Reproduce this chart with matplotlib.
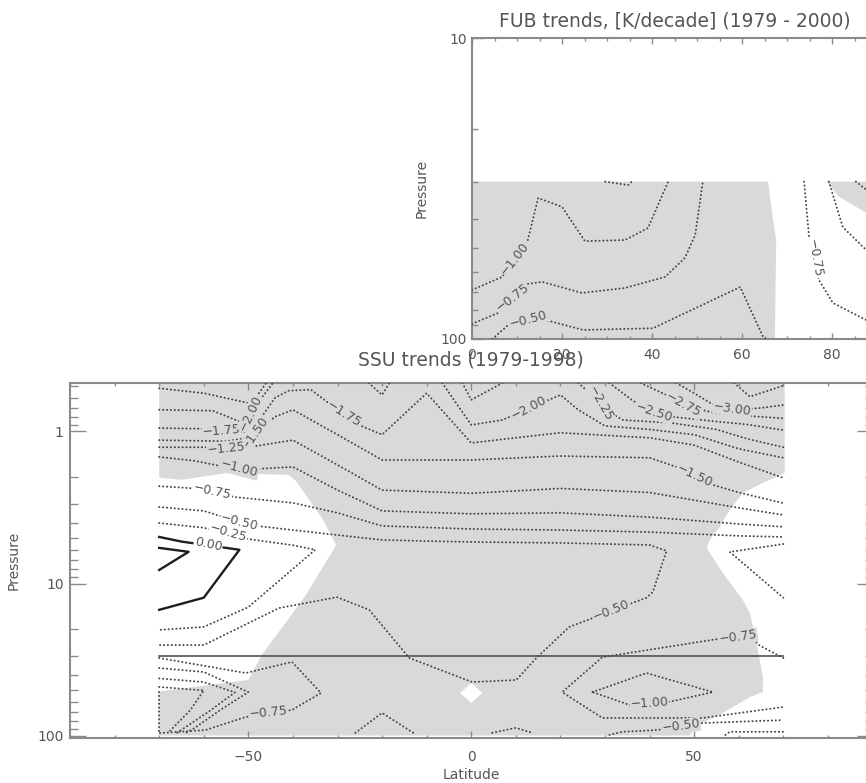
import numpy as np
import matplotlib
matplotlib.use("Agg")
import matplotlib.pyplot as plt
from matplotlib.ticker import FixedLocator, MultipleLocator, LogLocator, NullFormatter, FuncFormatter

'''
Two contour panels: SSU trends (1979-1998) and FUB trends (1979-2000).
Every contour is a list of (latitude, pressure [hPa]) vertices read off the
original figure, every shaded area a list of polygon vertices.
'''

# ---------------------------------------------------------------------------
# SSU panel - contour lines
# ---------------------------------------------------------------------------
ssu_m325 = [(59, 0.48), (62.5, 0.59), (70, 0.50)]
ssu_m300 = [(46, 0.48), (50, 0.56), (54, 0.66), (60, 0.72), (65, 0.70), (70, 0.67)]
ssu_m275 = [(38, 0.48), (44, 0.58), (48, 0.68), (55, 0.76), (62, 0.79), (70, 0.82)]
ssu_m250 = [(31, 0.48), (36, 0.62), (40, 0.73), (45, 0.80), (55, 0.86), (62, 0.90), (70, 0.98)]
ssu_m225_right = [(24, 0.48), (27, 0.575), (30, 0.72), (34, 0.84), (45, 0.88), (55, 0.97), (62, 1.12), (70, 1.27)]
ssu_m225_mid = [(-2, 0.48), (0, 0.62), (7, 0.48)]
ssu_m225_left = [(-70, 0.52), (-60, 0.56), (-50, 0.65), (-48, 0.58), (-46, 0.48)]
ssu_m200_left = [(-70, 0.72), (-58, 0.73), (-52, 0.86), (-48.5, 0.68), (-46, 0.55), (-44.5, 0.48)]
ssu_m200_v = [(-23, 0.48), (-20, 0.575), (-18.4, 0.48)]
ssu_m200_mid = [(-6.5, 0.48), (0, 0.906), (7, 0.84), (20, 0.575), (24, 0.72), (30, 0.92),
                (40, 0.97), (50, 1.05), (60, 1.30), (70, 1.49)]
ssu_m175 = [(-70, 0.95), (-60, 0.96), (-53, 1.02), (-50, 1.0), (-47, 0.80), (-44, 0.60),
            (-41, 0.54), (-36, 0.53), (-30, 0.72), (-25, 0.91), (-20, 1.05), (-10, 0.56),
            (0, 1.19), (10, 1.10), (20, 1.02), (30, 1.06), (40, 1.10), (50, 1.23),
            (60, 1.59), (70, 2.02)]
ssu_m150 = [(-70, 1.14), (-55, 1.16), (-50, 1.10), (-47, 0.95), (-44, 0.80), (-40, 0.72),
            (-30, 1.05), (-20, 1.54), (0, 1.54), (20, 1.45), (40, 1.49), (48, 1.79),
            (52, 2.15), (60, 2.52), (70, 2.96)]
ssu_m125 = [(-70, 1.27), (-50, 1.27), (-40, 1.14), (-30, 1.66), (-20, 2.43), (0, 2.55),
            (20, 2.37), (40, 2.52), (60, 3.18), (70, 3.54)]
ssu_m100 = [(-70, 1.47), (-62, 1.56), (-52, 1.79), (-40, 1.71), (-30, 2.43), (-20, 3.33),
            (0, 3.48), (20, 3.43), (40, 3.66), (60, 4.06), (70, 4.24)]
ssu_m075 = [(-70, 2.29), (-62, 2.37), (-53, 2.70), (-40, 2.95), (-30, 3.43), (-20, 4.18),
            (0, 4.38), (20, 4.45), (40, 4.59), (60, 4.86), (70, 4.94)]
ssu_m050_loop = [(-70, 3.14), (-60, 3.33), (-50, 4.12), (-40, 4.45), (-30, 4.80), (-20, 5.17),
                 (-10, 5.26), (0, 5.33), (20, 5.41), (40, 5.58), (43.8, 6.1), (40.7, 11.4),
                 (39.3, 12.4), (22, 19.3), (14.6, 30.9), (10.1, 43.1), (0.2, 44.5),
                 (-13.9, 30.9), (-22.9, 14.9), (-30.1, 12.3), (-43.1, 14.5), (-60, 25.4),
                 (-70, 25.4)]
ssu_m025_left = [(-70, 4.0), (-60, 4.3), (-50, 5.1), (-40, 5.6), (-35, 6.0), (-50, 14.3),
                 (-60, 19.3), (-70, 20.2)]
ssu_m050_wedge = [(70, 5.5), (58, 6.2), (70, 12.4)]
ssu_m075_low = [(-70, 30.9), (-50.6, 38.8), (-40.2, 32.8), (-33.7, 52.5), (-40.2, 67.9),
                (-50.6, 75.5), (-59.6, 92.0), (-70, 96.3)]
ssu_low_w1 = [(-70, 36.0), (-60, 38.2), (-50, 51.8), (-56, 67.0), (-62, 89.0), (-64, 96.0)]
ssu_low_w2 = [(-70, 42.1), (-60, 44.5), (-53, 52.0), (-59, 70.0), (-66, 96.0)]
ssu_low_w3 = [(-70, 47.9), (-60, 50.5), (-63, 68.0), (-68, 96.0)]
ssu_low_edge = [(-70, 52.0), (-70, 96.0)]
ssu_bump_a = [(-26, 96), (-20, 71), (-13, 96)]
ssu_bump_b = [(4.7, 96), (10, 89), (13.7, 96)]
ssu_m075_right = [(70, 30.9), (64.5, 25.4), (63, 22.5), (56, 23.0), (29.4, 30.5), (20.4, 51.8),
                  (29.4, 76.6), (52, 76.6), (70, 64.9)]
ssu_m100_lens = [(27.2, 51.8), (39.3, 38.8), (54.2, 51.8), (44.5, 60.0), (35.5, 62.9), (27.2, 51.8)]
ssu_m050_low = [(31, 99), (33.9, 94.5), (41.6, 92.0), (51.9, 82.8), (70, 79.1)]
ssu_m025_low = [(57, 99), (58, 94.5), (70, 94.5)]

# zero lines (solid)
ssu_000_outer = [(-70, 4.94), (-65, 5.3), (-52, 6.0), (-60, 12.4), (-70, 14.9)]
ssu_000_inner = [(-70, 5.83), (-63.4, 6.19), (-70, 8.15)]

# level where FUB data takes over
ssu_join_p = 30.0
ssu_join_lat = [-70, 70]

# contour labels: text, latitude, pressure, angle, background
ssu_labels = [
    ("\u22121.75", -56, 0.99, 5, "g"), ("\u22122.00", -49.5, 0.76, 65, "g"),
    ("\u22121.50", -48.5, 1.03, 55, "g"), ("\u22121.25", -55, 1.29, 6, "g"),
    ("\u22121.00", -52, 1.76, -15, "g"), ("\u22120.75", -58, 2.5, -12, "w"),
    ("\u22120.50", -52, 3.95, -14, "w"), ("\u22120.25", -54.5, 4.65, -16, "w"),
    ("0.00", -59, 5.55, -12, "w"), ("\u22121.75", -28.5, 0.77, -32, "g"),
    ("\u22122.00", 13, 0.705, 28, "g"), ("\u22122.25", 29, 0.66, -60, "g"),
    ("\u22122.50", 41, 0.75, -18, "g"), ("\u22122.75", 47.5, 0.67, -28, "g"),
    ("\u22123.00", 58.5, 0.71, -8, "g"), ("\u22121.50", 50, 1.96, -25, "g"),
    ("\u22120.50", 31.5, 15.0, 22, "g"), ("\u22120.75", 59.8, 22.6, 8, "g"),
    ("\u22121.00", 40, 61.5, 4, "g"), ("\u22120.50", 47, 87, 8, "g"),
    ("\u22120.75", -45.5, 71, 6, "g"),
]

# shaded areas
ssu_shade = [(-70, 0.40), (70.3, 0.40), (70.3, 1.88), (65.4, 2.18), (60.9, 2.54), (58, 3.28),
             (55.7, 4.25), (53.5, 5.17), (52.8, 5.84), (56.4, 8.52), (60.9, 12.8), (62.5, 15.6),
             (64, 24.6), (65.4, 41.2), (65.4, 51.8), (62.5, 55.8), (56.4, 71.1), (51.9, 82.5),
             (49.7, 92.0), (49, 100), (-70, 100)]
ssu_clear_left = [(-71, 2.0), (-65, 2.08), (-55, 1.88), (-41, 1.93), (-39.3, 2.12), (-37.1, 2.62),
                  (-33.5, 3.70), (-30.3, 5.58), (-31.2, 6.2), (-37.1, 11.9), (-42.5, 19.6),
                  (-47, 29.5), (-50, 43.1), (-59, 46.6), (-71, 51.8)]
ssu_clear_diamond = [(-2.5, 52.5), (0, 45.2), (2.5, 52.5), (0, 61.0)]

ssu_lat_ticks = [-50, 0, 50]
ssu_p_ticks = [1, 10, 100]

# ---------------------------------------------------------------------------
# FUB panel
# ---------------------------------------------------------------------------
fub_m100 = [(0, 68.7), (6.7, 62.2), (12.4, 46.9), (14.7, 34.0), (20, 36.4), (25.1, 47.3),
            (34, 46.9), (39.1, 42.8), (43.6, 30)]
fub_m075 = [(0, 89), (5.8, 82), (12.4, 65.6), (15.6, 64.6), (24.4, 70.3), (34, 67.7),
            (42.9, 62.2), (47.3, 53.8), (49.6, 45.1), (51.3, 30)]
fub_m050 = [(4.5, 100), (8, 90), (12, 85), (17, 87), (24.7, 93.3), (40.2, 92.1), (59.6, 67.2),
            (64.7, 98.5), (65.2, 100)]
fub_top = [(29.6, 30), (34.7, 30.8), (35.5, 30)]
fub_m075_right = [(73.8, 30), (74.9, 45.8), (77.1, 63.7), (80.2, 75.9), (87.6, 86.5), (90, 89.8)]
fub_right_b = [(79.3, 30), (82.4, 42.5), (87.6, 50.6), (90, 54)]
fub_right_c = [(85.3, 30), (87.6, 31.9), (90, 34)]

fub_labels = [
    ("\u22121.00", 9.5, 54, 52, "g"), ("\u22120.75", 9, 73, 38, "g"),
    ("\u22120.50", 12.5, 86, 15, "g"), ("\u22120.75", 76, 54, -80, "w"),
]

fub_shade_main = [(0, 30), (65.8, 30), (66.9, 40.2), (67.6, 46.9), (67.3, 100), (0, 100)]
fub_shade_right = [(78.7, 30), (81.6, 33.7), (87.6, 38.1), (91, 39.7), (91, 30)]

fub_lat_ticks = [0, 20, 40, 60, 80]
fub_p_ticks = [10, 100]

# ---------------------------------------------------------------------------
# plotting
# ---------------------------------------------------------------------------
SHADE = "#d9d9d9"
TXT = "#555555"
AXC = "#8a8a8a"
BG = {"g": SHADE, "w": "white"}


def dotted(ax, pts):
    lat, p = zip(*pts)
    ax.plot(lat, p, color="#444444", lw=1.4, ls=(0, (0.1, 1.9)),
            dash_capstyle="round", zorder=3)


def solid(ax, pts):
    lat, p = zip(*pts)
    ax.plot(lat, p, color="#1e1e1e", lw=1.7, zorder=3)


def patch(ax, pts, color, z):
    lat, p = zip(*pts)
    ax.fill(lat, p, color=color, lw=0, zorder=z)


def labels(ax, lab):
    for s, lat, p, rot, bg in lab:
        ax.text(lat, p, s, rotation=rot, rotation_mode="anchor", ha="center", va="center",
                fontsize=9, color=TXT, zorder=4,
                bbox=dict(boxstyle="square,pad=0.05", fc=BG[bg], ec="none"))


def style_axes(ax, xlen, ylen, xpad, ypad):
    for s in ax.spines.values():
        s.set_color(AXC)
        s.set_linewidth(1.5)
    ax.tick_params(which="both", direction="in", top=True, right=True,
                   colors=AXC, labelcolor=TXT, labelsize=10)
    ax.tick_params(axis="x", which="major", length=xlen, width=1, pad=xpad)
    ax.tick_params(axis="x", which="minor", length=xlen / 2, width=1)
    ax.tick_params(axis="y", which="major", length=ylen, width=1, pad=ypad)
    ax.tick_params(axis="y", which="minor", length=ylen / 2, width=1)


fig = plt.figure(figsize=(8.66, 7.83), dpi=100)

# --- SSU panel --------------------------------------------------------------
ax = fig.add_axes([70 / 866, 45 / 783, 802.5 / 866, 355 / 783])
ax.set_yscale("log")
ax.set_xlim(-90, 90)
ax.set_ylim(103.8, 0.48)

patch(ax, ssu_shade, SHADE, 1)
patch(ax, ssu_clear_left, "white", 1.5)
patch(ax, ssu_clear_diamond, "white", 1.5)

for line in [ssu_m325, ssu_m300, ssu_m275, ssu_m250, ssu_m225_right, ssu_m225_mid,
             ssu_m225_left, ssu_m200_left, ssu_m200_v, ssu_m200_mid, ssu_m175, ssu_m150,
             ssu_m125, ssu_m100, ssu_m075, ssu_m050_loop, ssu_m025_left, ssu_m050_wedge,
             ssu_m075_low, ssu_low_w1, ssu_low_w2, ssu_low_w3, ssu_low_edge, ssu_bump_a,
             ssu_bump_b, ssu_m075_right, ssu_m100_lens, ssu_m050_low, ssu_m025_low]:
    dotted(ax, line)
solid(ax, ssu_000_outer)
solid(ax, ssu_000_inner)
ax.plot(ssu_join_lat, [ssu_join_p, ssu_join_p], color="#444444", lw=1.1, zorder=3)
labels(ax, ssu_labels)

ax.xaxis.set_major_locator(FixedLocator(ssu_lat_ticks))
ax.xaxis.set_minor_locator(MultipleLocator(10))
ax.yaxis.set_major_locator(FixedLocator(ssu_p_ticks))
ax.yaxis.set_major_formatter(FuncFormatter(lambda v, _: f"{v:g}"))
ax.yaxis.set_minor_locator(LogLocator(base=10, subs=np.arange(2, 10)))
ax.yaxis.set_minor_formatter(NullFormatter())
style_axes(ax, 5, 11.5, 8.5, 4.5)

ax.set_xlabel("Latitude", fontsize=10, color=TXT)
ax.xaxis.set_label_coords(0.5, -0.085)
ax.set_ylabel("Pressure", fontsize=10, color=TXT)
ax.yaxis.set_label_coords(-0.062, 0.5)
ax.text(0.5, 1.065, "SSU trends (1979-1998)", transform=ax.transAxes, ha="center",
        va="center", fontsize=13.5, color=TXT)

# --- FUB panel --------------------------------------------------------------
ax2 = fig.add_axes([472 / 866, 444 / 783, 405 / 866, 301 / 783])
ax2.set_yscale("log")
ax2.set_xlim(0, 90)
ax2.set_ylim(100, 10)

patch(ax2, fub_shade_main, SHADE, 1)
patch(ax2, fub_shade_right, SHADE, 1)
for line in [fub_m100, fub_m075, fub_m050, fub_top, fub_m075_right, fub_right_b, fub_right_c]:
    dotted(ax2, line)
labels(ax2, fub_labels)

ax2.xaxis.set_major_locator(FixedLocator(fub_lat_ticks))
ax2.xaxis.set_minor_locator(MultipleLocator(5))
ax2.yaxis.set_major_locator(FixedLocator(fub_p_ticks))
ax2.yaxis.set_major_formatter(FuncFormatter(lambda v, _: f"{v:g}"))
ax2.yaxis.set_minor_locator(LogLocator(base=10, subs=np.arange(2, 10)))
ax2.yaxis.set_minor_formatter(NullFormatter())
style_axes(ax2, 4.5, 8.5, 6.5, 3.5)

ax2.set_ylabel("Pressure", fontsize=10, color=TXT)
ax2.yaxis.set_label_coords(-0.108, 0.5)
ax2.text(0.5, 1.055, "FUB trends, [K/decade] (1979 - 2000)", transform=ax2.transAxes,
         ha="center", va="center", fontsize=13.5, color=TXT)

fig.savefig("out.png", dpi=100)
